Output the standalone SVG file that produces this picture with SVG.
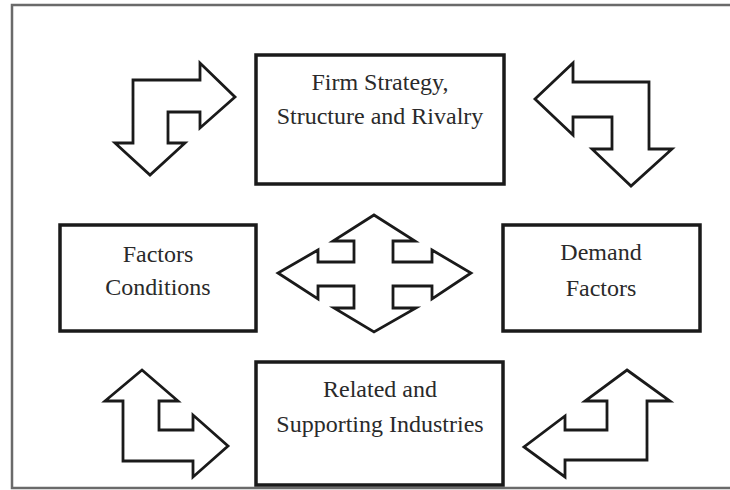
<svg xmlns="http://www.w3.org/2000/svg" width="730" height="490" viewBox="0 0 730 490">
<style>
.frame{fill:none;stroke:#6a6a6a;stroke-width:2.5}
.box{fill:#fff;stroke:#1a1a1a;stroke-width:3.5}
.arrow{fill:#fff;stroke:#1a1a1a;stroke-width:2.8;stroke-linejoin:miter}
.lbl{font-family:"Liberation Serif","Times New Roman",serif;font-size:24px;fill:#2a2a2a;text-anchor:middle}
</style>
<rect width="730" height="490" fill="#fff"/>
<path class="frame" d="M735 5 H12 V488 H735"/>
<g id="firm">
<rect class="box" x="256" y="55" width="248" height="129"/>
<text class="lbl" x="380" y="90">Firm Strategy,</text>
<text class="lbl" x="380" y="124">Structure and Rivalry</text>
</g>
<g id="factors">
<rect class="box" x="60" y="225" width="196" height="106"/>
<text class="lbl" x="158" y="262">Factors</text>
<text class="lbl" x="158" y="295">Conditions</text>
</g>
<g id="demand">
<rect class="box" x="503" y="225" width="197" height="106"/>
<text class="lbl" x="601" y="260">Demand</text>
<text class="lbl" x="601" y="296">Factors</text>
</g>
<g id="related">
<rect class="box" x="256" y="362" width="247" height="123"/>
<text class="lbl" x="380" y="397">Related and</text>
<text class="lbl" x="380" y="432">Supporting Industries</text>
</g>
<g id="connectors">
<polygon class="arrow" points="133,80 200,80 200,63 235,97 200,128 200,112 168,112 168,143 185,143 150,175 115,143 133,143"/>
<polygon class="arrow" points="649,82 573,82 573,63 535,99 573,135 573,117 612,117 612,149 592,149 631,186 672,149 649,149"/>
<polygon class="arrow" points="374,215 415,241 393,241 393,262 432,262 432,250 471,273 432,299 432,286 393,286 393,308 416,308 374,332 334,308 354,308 354,286 318,286 318,299 278,273 318,250 318,262 354,262 354,241 333,241"/>
<polygon class="arrow" points="142,370 178,401 159,401 159,430 193,430 193,415 228,446 193,477 193,461 123,461 123,401 105,401"/>
<polygon class="arrow" points="627,370 670,401 647,401 647,460 565,460 565,477 524,447 565,416 565,430 607,430 607,401 585,401"/>
</g>
</svg>
